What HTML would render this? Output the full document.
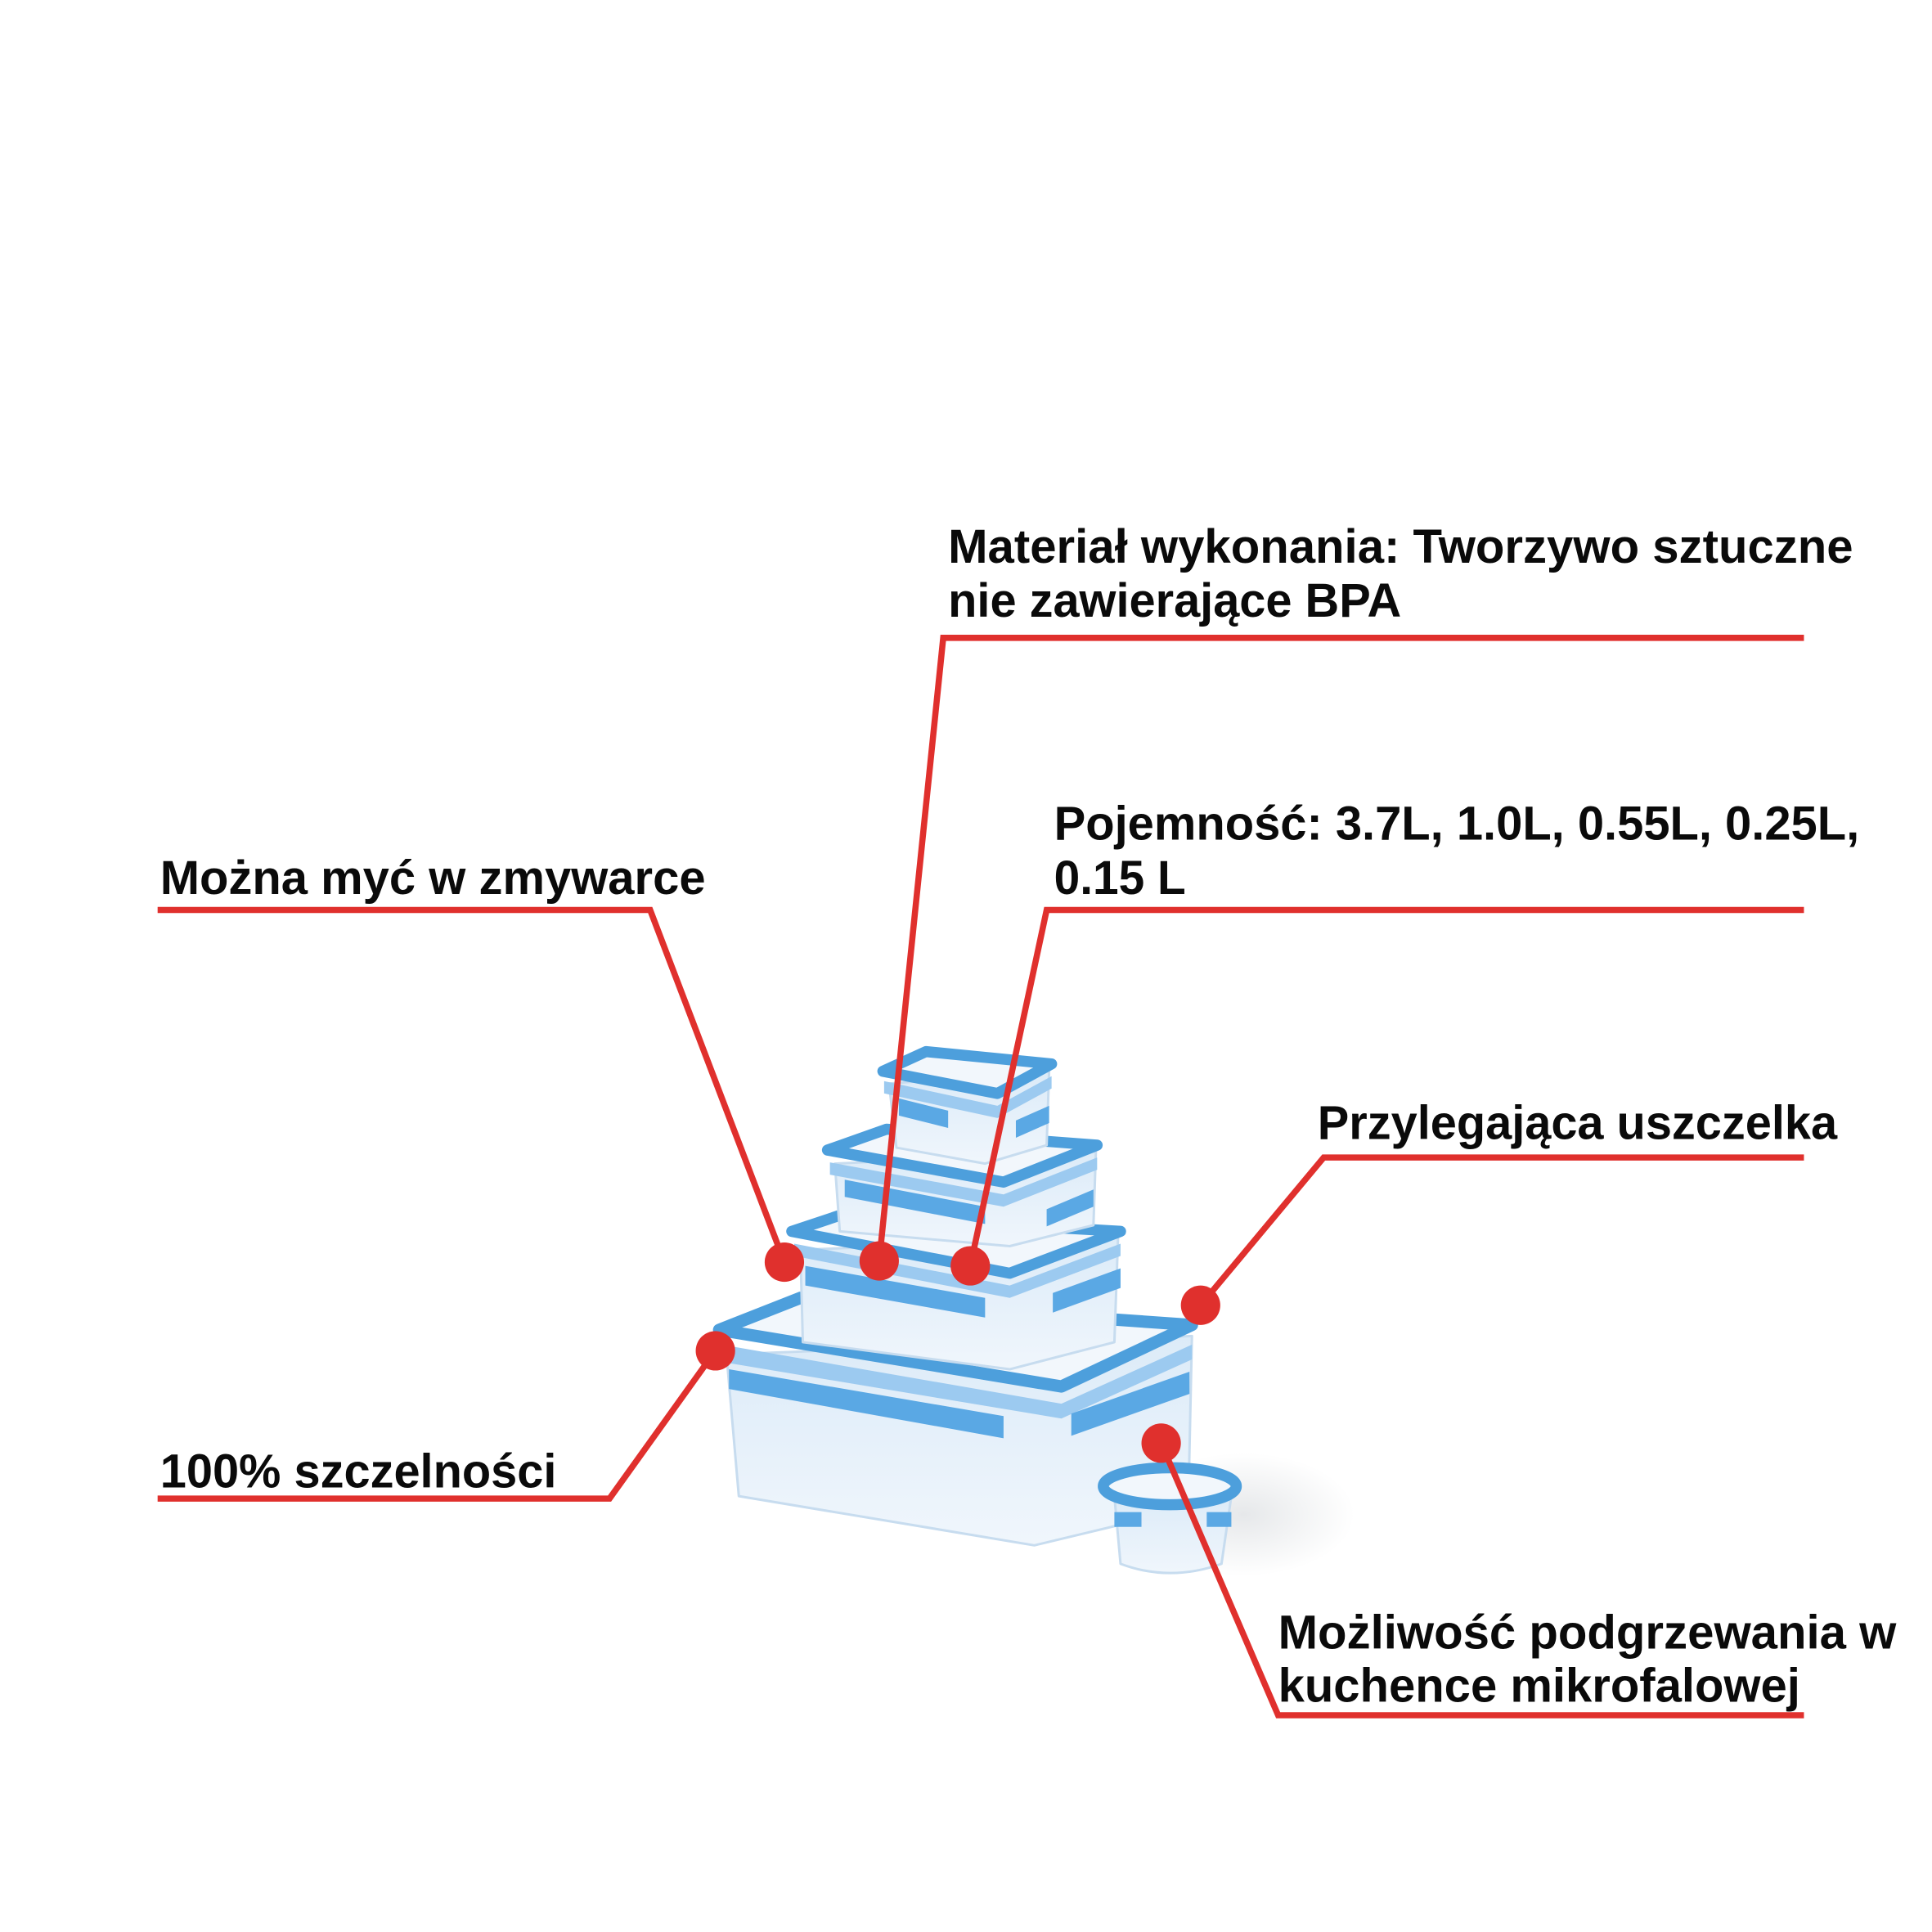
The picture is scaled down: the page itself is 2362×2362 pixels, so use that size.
<!DOCTYPE html>
<html><head><meta charset="utf-8"><style>html,body{margin:0;padding:0;background:#fff}svg{display:block}</style></head>
<body>
<svg width="2362" height="2362" viewBox="0 0 1569 1569" xmlns="http://www.w3.org/2000/svg">
<defs>
<linearGradient id="bd" x1="0" y1="0" x2="0" y2="1"><stop offset="0" stop-color="#dcebf8"/><stop offset="1" stop-color="#f0f6fc"/></linearGradient>
<radialGradient id="sh" cx="0.5" cy="0.5" r="0.5"><stop offset="0" stop-color="#e6e8ea"/><stop offset="1" stop-color="#ffffff"/></radialGradient>
</defs>
<ellipse cx="1010" cy="1230" rx="90" ry="50" fill="url(#sh)"/>
<g stroke-linejoin="round">
<!-- big container -->
<path d="M590 1100 L600 1215 L840 1255 L965 1225 L968 1085 Z" fill="url(#bd)" stroke="#c7dcef" stroke-width="2"/>
<path d="M584 1080 L650 1054 L968 1076 L862 1126 Z" fill="#f2f7fc" stroke="#4d9fdc" stroke-width="10"/>
<path d="M586 1092 L862 1140 L968 1092 L968 1104 L862 1152 L586 1106 Z" fill="#9ccaf0"/>
<path d="M592 1112 L815 1150 L815 1168 L592 1128 Z" fill="#5aa8e4"/>
<path d="M870 1148 L966 1114 L966 1132 L870 1166 Z" fill="#5aa8e4"/>
<!-- medium 3 -->
<path d="M650 1015 L652 1090 L820 1112 L905 1090 L908 1005 Z" fill="url(#bd)" stroke="#c7dcef" stroke-width="2"/>
<path d="M643 1000 L682 987 L910 1000 L820 1034 Z" fill="#f2f7fc" stroke="#4d9fdc" stroke-width="9"/>
<path d="M645 1010 L820 1044 L910 1010 L910 1020 L820 1054 L645 1020 Z" fill="#9ccaf0"/>
<path d="M654 1028 L800 1054 L800 1070 L654 1044 Z" fill="#5aa8e4"/>
<path d="M855 1050 L910 1030 L910 1046 L855 1066 Z" fill="#5aa8e4"/>
<!-- medium 2 -->
<path d="M678 945 L682 1000 L820 1012 L888 995 L890 935 Z" fill="url(#bd)" stroke="#c7dcef" stroke-width="2"/>
<path d="M672 934 L720 917 L891 930 L815 960 Z" fill="#f2f7fc" stroke="#4d9fdc" stroke-width="9"/>
<path d="M674 944 L815 970 L891 940 L891 950 L815 980 L674 954 Z" fill="#9ccaf0"/>
<path d="M686 958 L800 980 L800 994 L686 972 Z" fill="#5aa8e4"/>
<path d="M850 982 L888 966 L888 980 L850 996 Z" fill="#5aa8e4"/>
<!-- small -->
<path d="M722 880 L728 932 L800 945 L850 930 L852 870 Z" fill="url(#bd)" stroke="#c7dcef" stroke-width="2"/>
<path d="M717 870 L752 854 L854 864 L810 888 Z" fill="#f2f7fc" stroke="#4d9fdc" stroke-width="9"/>
<path d="M718 878 L810 898 L854 874 L854 884 L810 908 L718 888 Z" fill="#9ccaf0"/>
<path d="M730 892 L770 902 L770 916 L730 906 Z" fill="#5aa8e4"/>
<path d="M825 910 L852 898 L852 912 L825 924 Z" fill="#5aa8e4"/>
<!-- round -->
<path d="M905 1215 L910 1270 Q950 1285 992 1270 L1000 1215 Z" fill="url(#bd)" stroke="#c7dcef" stroke-width="2"/>
<ellipse cx="950" cy="1207" rx="54" ry="15" fill="#f2f7fc" stroke="#4d9fdc" stroke-width="9"/>
<rect x="905" y="1228" width="22" height="12" fill="#5aa8e4"/>
<rect x="980" y="1228" width="20" height="12" fill="#5aa8e4"/>
</g>
<g stroke="#e0302d" stroke-width="5" fill="none" stroke-linecap="butt" stroke-linejoin="miter">
<polyline points="1465,518 766,518 714,1024"/>
<polyline points="1465,739 850,739 788,1028"/>
<polyline points="128,739 528,739 637,1025"/>
<polyline points="1465,940 1075,940 975,1060"/>
<polyline points="128,1217 495,1217 581,1097"/>
<polyline points="1465,1393 1038,1393 943,1172"/>
</g>
<g fill="#e0302d">
<circle cx="714" cy="1024" r="16"/><circle cx="788" cy="1028" r="16"/><circle cx="637" cy="1025" r="16"/>
<circle cx="975" cy="1060" r="16"/><circle cx="581" cy="1097" r="16"/><circle cx="943" cy="1172" r="16"/>
</g>
<g font-family="Liberation Sans, Arial, sans-serif" font-weight="bold" font-size="39" fill="#0a0a0a">
<text x="770" y="457" textLength="735" lengthAdjust="spacingAndGlyphs">Materiał wykonania: Tworzywo sztuczne</text>
<text x="770" y="501" textLength="368" lengthAdjust="spacingAndGlyphs">nie zawierające BPA</text>
<text x="856" y="682" textLength="654" lengthAdjust="spacingAndGlyphs">Pojemność: 3.7L, 1.0L, 0.55L, 0.25L,</text>
<text x="856" y="726" textLength="107" lengthAdjust="spacingAndGlyphs">0.15 L</text>
<text x="130" y="726" textLength="443" lengthAdjust="spacingAndGlyphs">Można myć w zmywarce</text>
<text x="1070" y="925" textLength="422" lengthAdjust="spacingAndGlyphs">Przylegająca uszczelka</text>
<text x="130" y="1208" textLength="322" lengthAdjust="spacingAndGlyphs">100% szczelności</text>
<text x="1038" y="1339" textLength="502" lengthAdjust="spacingAndGlyphs">Możliwość podgrzewania w</text>
<text x="1038" y="1382" textLength="424" lengthAdjust="spacingAndGlyphs">kuchence mikrofalowej</text>
</g>
</svg>
</body></html>
